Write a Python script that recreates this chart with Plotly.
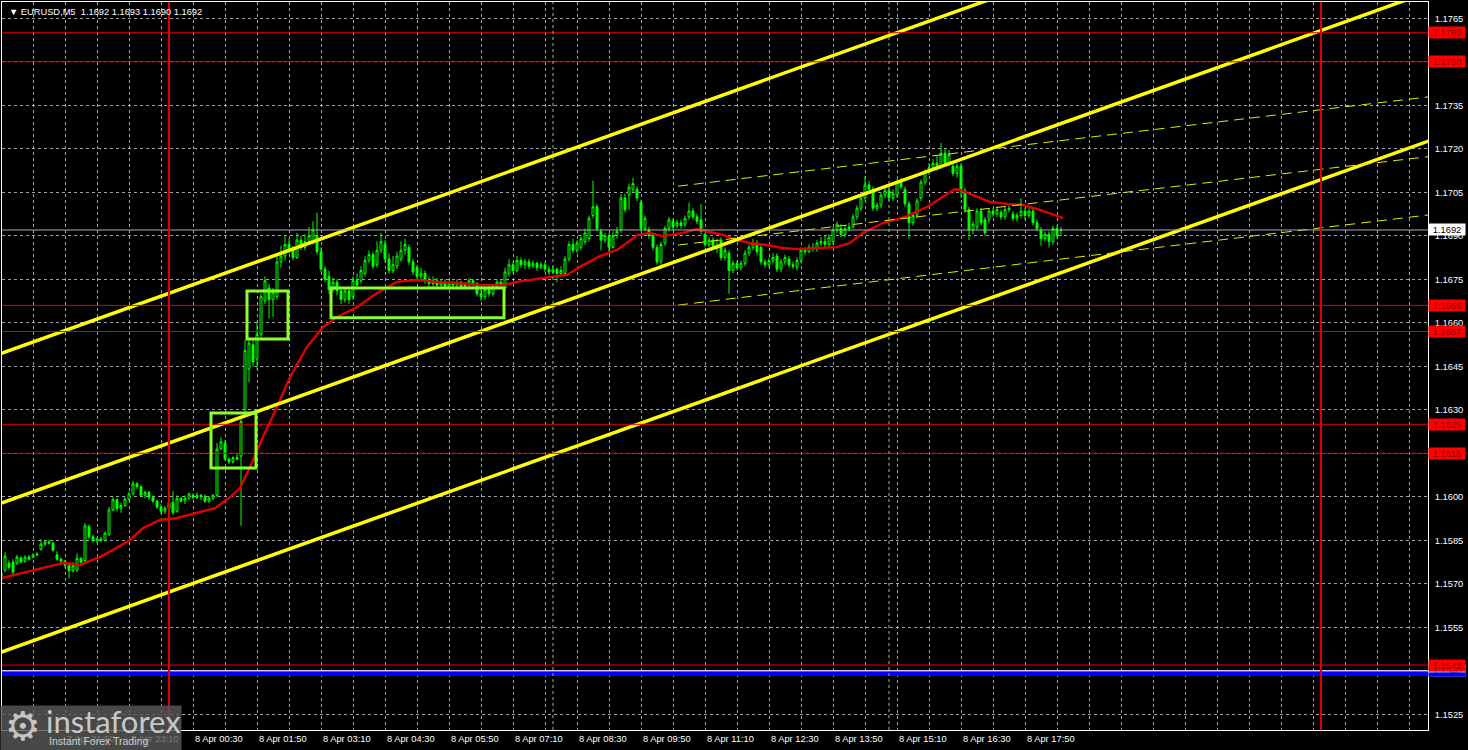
import plotly.graph_objects as go

# ---------------- data ----------------
opens = [
1.15713,1.15747,1.15771,1.15775,1.15771,1.15789,1.15778,1.15792,1.15792,1.15799,
1.15819,1.15837,1.15844,1.15840,1.15800,1.15785,1.15778,1.15764,1.15745,1.15748,
1.15788,1.15780,1.15897,1.15862,1.15848,1.15855,1.15850,1.15870,1.15955,1.15990,
1.15960,1.15970,1.15992,1.16010,1.16045,1.16035,1.16005,1.16015,1.15998,1.15985,
1.15965,1.15950,1.15960,1.15980,1.15950,1.15995,1.15985,1.15995,1.16005,1.15998,
1.16005,1.16000,1.15985,1.15995,1.16005,1.16165,1.16185,1.16130,1.16120,1.16135,
1.16140,1.16300,1.16440,1.16525,1.16475,1.16560,1.16675,1.16720,1.16680,1.16690,
1.16810,1.16830,1.16870,1.16850,1.16825,1.16885,1.16860,1.16880,1.16880,1.16900,
1.16845,1.16785,1.16760,1.16715,1.16740,1.16710,1.16680,1.16710,1.16690,1.16745,
1.16745,1.16770,1.16815,1.16835,1.16800,1.16850,1.16870,1.16820,1.16780,1.16795,
1.16820,1.16850,1.16860,1.16810,1.16790,1.16760,1.16770,1.16745,1.16735,1.16745,
1.16730,1.16740,1.16725,1.16735,1.16730,1.16740,1.16725,1.16730,1.16745,1.16735,
1.16700,1.16690,1.16715,1.16700,1.16725,1.16740,1.16720,1.16770,1.16800,1.16780,
1.16815,1.16800,1.16810,1.16795,1.16805,1.16790,1.16800,1.16785,1.16775,1.16785,
1.16770,1.16770,1.16820,1.16870,1.16850,1.16860,1.16880,1.16890,1.16970,1.17000,
1.16915,1.16885,1.16900,1.16860,1.16900,1.16920,1.17030,1.17040,1.17060,1.17060,
1.17015,1.16925,1.16920,1.16900,1.16860,1.16810,1.16875,1.16925,1.16950,1.16935,
1.16945,1.16940,1.16965,1.16985,1.16965,1.16955,1.16905,1.16870,1.16885,1.16865,
1.16885,1.16825,1.16840,1.16780,1.16805,1.16790,1.16805,1.16840,1.16860,1.16875,
1.16860,1.16810,1.16800,1.16815,1.16830,1.16785,1.16810,1.16820,1.16800,1.16790,
1.16815,1.16850,1.16845,1.16860,1.16855,1.16875,1.16880,1.16870,1.16880,1.16920,
1.16925,1.16905,1.16925,1.16930,1.16965,1.16995,1.17030,1.17075,1.17060,1.16995,
1.17005,1.17040,1.17055,1.17030,1.17040,1.17085,1.17060,1.17010,1.16945,1.16970,
1.17030,1.17085,1.17120,1.17135,1.17150,1.17140,1.17185,1.17150,1.17140,1.17115,
1.17140,1.17055,1.16990,1.16920,1.16930,1.16985,1.16955,1.16955,1.16985,1.16975,
1.16980,1.16965,1.16990,1.16975,1.16960,1.16970,1.16985,1.16970,1.16985,1.16945,
1.16920,1.16890,1.16905,1.16880,1.16925,1.16920]
highs = [
1.15753,1.15809,1.15781,1.15785,1.15800,1.15795,1.15798,1.15800,1.15806,1.15810,
1.15854,1.15850,1.15852,1.15846,1.15812,1.15790,1.15782,1.15770,1.15775,1.15805,
1.15792,1.15910,1.15905,1.15870,1.15860,1.15862,1.15880,1.15965,1.16000,1.15995,
1.15980,1.16000,1.16018,1.16055,1.16050,1.16040,1.16022,1.16020,1.16005,1.15990,
1.15975,1.15968,1.15985,1.16020,1.16005,1.16000,1.16005,1.16015,1.16012,1.16015,
1.16010,1.16008,1.16002,1.16010,1.16185,1.16205,1.16195,1.16135,1.16140,1.16150,
1.16275,1.16540,1.16545,1.16540,1.16600,1.16700,1.16760,1.16735,1.16720,1.16830,
1.16865,1.16900,1.16890,1.16865,1.16910,1.16900,1.16905,1.16930,1.16950,1.16980,
1.16860,1.16795,1.16780,1.16755,1.16750,1.16720,1.16720,1.16715,1.16760,1.16770,
1.16795,1.16830,1.16850,1.16845,1.16880,1.16910,1.16885,1.16840,1.16830,1.16845,
1.16880,1.16890,1.16870,1.16820,1.16800,1.16790,1.16780,1.16760,1.16760,1.16755,
1.16750,1.16750,1.16745,1.16745,1.16750,1.16745,1.16740,1.16755,1.16750,1.16740,
1.16715,1.16725,1.16730,1.16735,1.16750,1.16750,1.16790,1.16820,1.16810,1.16830,
1.16825,1.16820,1.16820,1.16815,1.16810,1.16810,1.16810,1.16795,1.16795,1.16790,
1.16795,1.16830,1.16880,1.16890,1.16885,1.16900,1.16925,1.16970,1.17090,1.17010,
1.16925,1.16910,1.16910,1.16915,1.16930,1.17045,1.17045,1.17080,1.17100,1.17070,
1.17025,1.16970,1.16930,1.16910,1.16870,1.16880,1.16935,1.16965,1.16960,1.16955,
1.16955,1.16970,1.17015,1.16995,1.16975,1.17010,1.16910,1.16895,1.16895,1.16890,
1.16895,1.16860,1.16850,1.16815,1.16815,1.16815,1.16850,1.16870,1.16890,1.16885,
1.16870,1.16820,1.16825,1.16840,1.16840,1.16820,1.16835,1.16830,1.16810,1.16825,
1.16860,1.16860,1.16870,1.16875,1.16885,1.16895,1.16900,1.16905,1.16930,1.16950,
1.16940,1.16935,1.16945,1.16975,1.17005,1.17040,1.17105,1.17090,1.17070,1.17015,
1.17050,1.17070,1.17065,1.17060,1.17095,1.17100,1.17070,1.17020,1.16980,1.17030,
1.17095,1.17130,1.17150,1.17165,1.17175,1.17220,1.17200,1.17195,1.17150,1.17150,
1.17150,1.17065,1.17000,1.16950,1.16995,1.16995,1.16965,1.16995,1.16995,1.17000,
1.16990,1.17000,1.17005,1.16985,1.16980,1.17030,1.16995,1.16995,1.16995,1.16955,
1.16930,1.16915,1.16915,1.16935,1.16935,1.16930]
lows = [
1.15689,1.15740,1.15750,1.15733,1.15765,1.15770,1.15772,1.15780,1.15788,1.15795,
1.15815,1.15830,1.15835,1.15810,1.15780,1.15772,1.15755,1.15718,1.15738,1.15740,
1.15768,1.15772,1.15855,1.15842,1.15840,1.15844,1.15845,1.15865,1.15950,1.15950,
1.15945,1.15965,1.15985,1.16005,1.16028,1.15998,1.15995,1.15990,1.15978,1.15958,
1.15940,1.15940,1.15955,1.15938,1.15945,1.15980,1.15975,1.15990,1.15990,1.15992,
1.15990,1.15978,1.15980,1.15988,1.15998,1.16160,1.16125,1.16112,1.16115,1.16125,
1.15900,1.16280,1.16395,1.16450,1.16440,1.16550,1.16665,1.16615,1.16620,1.16680,
1.16790,1.16815,1.16840,1.16815,1.16820,1.16850,1.16850,1.16870,1.16870,1.16835,
1.16775,1.16740,1.16700,1.16705,1.16695,1.16665,1.16670,1.16665,1.16680,1.16715,
1.16735,1.16760,1.16805,1.16785,1.16790,1.16840,1.16810,1.16770,1.16770,1.16785,
1.16810,1.16835,1.16800,1.16765,1.16745,1.16750,1.16735,1.16725,1.16725,1.16720,
1.16720,1.16715,1.16715,1.16720,1.16720,1.16715,1.16715,1.16725,1.16725,1.16690,
1.16675,1.16680,1.16690,1.16690,1.16715,1.16720,1.16710,1.16760,1.16770,1.16775,
1.16790,1.16785,1.16785,1.16790,1.16780,1.16785,1.16775,1.16765,1.16770,1.16740,
1.16760,1.16765,1.16810,1.16840,1.16840,1.16850,1.16870,1.16880,1.16960,1.16915,
1.16850,1.16875,1.16845,1.16855,1.16890,1.16910,1.16980,1.16990,1.17050,1.17020,
1.16915,1.16915,1.16890,1.16850,1.16800,1.16800,1.16865,1.16915,1.16920,1.16925,
1.16925,1.16930,1.16955,1.16955,1.16940,1.16905,1.16860,1.16860,1.16855,1.16840,
1.16815,1.16815,1.16700,1.16770,1.16780,1.16780,1.16795,1.16830,1.16850,1.16835,
1.16800,1.16790,1.16790,1.16805,1.16775,1.16775,1.16800,1.16790,1.16785,1.16780,
1.16805,1.16835,1.16840,1.16845,1.16845,1.16865,1.16860,1.16860,1.16870,1.16910,
1.16895,1.16895,1.16915,1.16925,1.16955,1.16985,1.17020,1.17050,1.16985,1.16985,
1.16995,1.17030,1.17020,1.17020,1.17030,1.17060,1.17000,1.16890,1.16935,1.16960,
1.17020,1.17075,1.17110,1.17125,1.17125,1.17130,1.17140,1.17140,1.17105,1.17100,
1.17030,1.16980,1.16885,1.16905,1.16920,1.16935,1.16900,1.16945,1.16965,1.16965,
1.16955,1.16955,1.16980,1.16950,1.16950,1.16960,1.16955,1.16960,1.16935,1.16915,
1.16865,1.16880,1.16860,1.16870,1.16890,1.16900]
closes = [
1.15742,1.15795,1.15757,1.15740,1.15792,1.15775,1.15792,1.15785,1.15799,1.15802,
1.15837,1.15844,1.15840,1.15816,1.15785,1.15778,1.15764,1.15745,1.15763,1.15788,
1.15775,1.15900,1.15862,1.15848,1.15855,1.15850,1.15875,1.15955,1.15990,1.15960,
1.15970,1.15992,1.16010,1.16045,1.16035,1.16005,1.16015,1.15998,1.15985,1.15965,
1.15950,1.15960,1.15980,1.15945,1.15995,1.15985,1.15995,1.16010,1.15998,1.16005,
1.16000,1.15985,1.15995,1.16005,1.16165,1.16190,1.16130,1.16120,1.16135,1.16130,
1.16260,1.16505,1.16530,1.16465,1.16560,1.16690,1.16745,1.16680,1.16705,1.16810,
1.16830,1.16870,1.16850,1.16825,1.16885,1.16860,1.16880,1.16900,1.16920,1.16845,
1.16785,1.16750,1.16715,1.16740,1.16710,1.16680,1.16710,1.16680,1.16745,1.16730,
1.16780,1.16815,1.16835,1.16795,1.16850,1.16880,1.16820,1.16780,1.16800,1.16830,
1.16850,1.16870,1.16810,1.16775,1.16760,1.16770,1.16745,1.16735,1.16745,1.16730,
1.16740,1.16725,1.16735,1.16730,1.16740,1.16725,1.16730,1.16745,1.16735,1.16700,
1.16690,1.16715,1.16700,1.16725,1.16740,1.16730,1.16775,1.16800,1.16780,1.16815,
1.16800,1.16810,1.16795,1.16805,1.16790,1.16800,1.16785,1.16775,1.16785,1.16770,
1.16780,1.16820,1.16870,1.16850,1.16875,1.16890,1.16910,1.16960,1.17000,1.16925,
1.16885,1.16900,1.16860,1.16900,1.16915,1.17030,1.16990,1.17068,1.17080,1.17030,
1.16925,1.16960,1.16900,1.16860,1.16810,1.16870,1.16925,1.16955,1.16930,1.16945,
1.16935,1.16960,1.16985,1.16965,1.16950,1.16915,1.16870,1.16885,1.16865,1.16855,
1.16825,1.16850,1.16780,1.16805,1.16790,1.16805,1.16840,1.16860,1.16875,1.16845,
1.16810,1.16800,1.16815,1.16825,1.16785,1.16810,1.16825,1.16800,1.16795,1.16815,
1.16850,1.16845,1.16860,1.16855,1.16875,1.16880,1.16870,1.16895,1.16920,1.16940,
1.16905,1.16925,1.16930,1.16965,1.16995,1.17030,1.17075,1.17060,1.16995,1.17005,
1.17040,1.17055,1.17030,1.17045,1.17085,1.17070,1.17010,1.16945,1.16970,1.17020,
1.17085,1.17120,1.17135,1.17150,1.17135,1.17185,1.17150,1.17180,1.17115,1.17140,
1.17055,1.16990,1.16920,1.16940,1.16985,1.16945,1.16910,1.16985,1.16975,1.16990,
1.16965,1.16990,1.16995,1.16960,1.16970,1.16985,1.16970,1.16985,1.16945,1.16925,
1.16890,1.16905,1.16880,1.16925,1.16900,1.16920]

# moving average (red line) read at sample bars
ma_idx = [0.25, 8, 12.25, 16, 19.75, 21, 24.75, 28, 32.25, 35.5, 39.75, 44, 49.75, 53.5,
          57.25, 59.75, 62.25, 65.5, 69, 72.25, 76.5, 80.5, 84, 89, 94, 99, 104, 109,
          114, 120.5, 125.5, 129, 137.25, 141.5, 145.5, 149.75, 154, 159.25, 162.25,
          165.5, 170.5, 174, 177.25, 180.5, 184, 187.25, 191.5, 195.5, 199, 204, 209,
          212.25, 215.5, 220.5, 226.5, 231.5, 235.5, 238.5, 239.75, 243, 247.25, 251.5,
          255.5, 259.75, 263, 265.5]
ma_val = [1.15720, 1.15748, 1.15761, 1.15772, 1.15765, 1.15772, 1.15793, 1.15817, 1.15851,
          1.15892, 1.15920, 1.15927, 1.15948, 1.15961, 1.15999, 1.16030, 1.16103, 1.16206,
          1.16310, 1.16413, 1.16517, 1.16585, 1.16620, 1.16654, 1.16703, 1.16741, 1.16748,
          1.16741, 1.16737, 1.16730, 1.16730, 1.16741, 1.16758, 1.16765, 1.16799, 1.16830,
          1.16851, 1.16903, 1.16910, 1.16899, 1.16910, 1.16923, 1.16913, 1.16903, 1.16885,
          1.16875, 1.16868, 1.16858, 1.16854, 1.16858, 1.16861, 1.16875, 1.16910, 1.16944,
          1.16968, 1.16999, 1.17034, 1.17061, 1.17058, 1.17041, 1.17017, 1.17010, 1.17006,
          1.16989, 1.16972, 1.16961]

# time axis labels (bar index -> text)
label_idx = [0, 16, 32, 48, 64, 80, 96, 112, 128, 144, 160, 176, 192, 208, 224, 240, 256]
label_text = ["7 Apr 2026", "7 Apr 21:50", "7 Apr 23:10", "8 Apr 00:30", "8 Apr 01:50",
              "8 Apr 03:10", "8 Apr 04:30", "8 Apr 05:50", "8 Apr 07:10", "8 Apr 08:30",
              "8 Apr 09:50", "8 Apr 11:10", "8 Apr 12:30", "8 Apr 13:50", "8 Apr 15:10",
              "8 Apr 16:30", "8 Apr 17:50"]
grid_idx = list(range(0, 356, 8))
price_ticks = [1.1525, 1.1540, 1.1555, 1.1570, 1.1585, 1.1600, 1.1615, 1.1630, 1.1645,
               1.1660, 1.1675, 1.1690, 1.1705, 1.1720, 1.1735, 1.1750, 1.1765]

# horizontal levels
red_levels = [1.1760, 1.1750, 1.1666, 1.1657, 1.1625, 1.1615, 1.1542]
current_price = 1.1692
support_level = 1.1540
blue_level = 1.15389

# vertical markers (bar index)
day_lines = [42, 330]
news_lines = [138, 222]

# yellow channel (bar index, price)
chan_x = [0, 360]
chan_upper = [1.16494, 1.18272]
chan_middle = [1.15978, 1.17756]
chan_lower = [1.15464, 1.17242]
dash_x = [169.25, 360]
dash_top = [1.17071, 1.17384]
dash_mid = [1.16868, 1.17178]
dash_low = [1.16661, 1.16977]

# green zones: (start bar, end bar, low, high)
zones_x0 = [52.5, 61.5, 82.5]
zones_x1 = [63.75, 71.75, 125.75]
zones_lo = [1.16099, 1.16544, 1.16617]
zones_hi = [1.16289, 1.16710, 1.16720]

title_text = "EURUSD,M5  1.1692 1.1693 1.1690 1.1692"

# ---------------- figure ----------------
W, H = 1468, 750
ML, MR, MT, MB = 2, 40, 2, 20
PW, PH = W - ML - MR, H - MT - MB
def px(xp):
    return (xp - ML) / PW
def py(yp):
    return (H - MB - yp) / PH

FONT = "Liberation Sans"
bars = list(range(len(opens)))

fig = go.Figure()
fig.add_trace(go.Candlestick(
    x=bars, open=opens, high=highs, low=lows, close=closes,
    increasing=dict(line=dict(color="#00FF00", width=1), fillcolor="#000000"),
    decreasing=dict(line=dict(color="#00FF00", width=1), fillcolor="#00FF00"),
    whiskerwidth=0, hoverinfo="skip", showlegend=False))
fig.add_trace(go.Scatter(x=ma_idx, y=ma_val, mode="lines",
                         line=dict(color="#E00000", width=2.4), hoverinfo="skip", showlegend=False))

for yv in (chan_upper, chan_middle, chan_lower):
    fig.add_trace(go.Scatter(x=chan_x, y=yv, mode="lines",
                             line=dict(color="#FFFF00", width=3.5), hoverinfo="skip", showlegend=False))
for yv in (dash_top, dash_mid, dash_low):
    fig.add_trace(go.Scatter(x=dash_x, y=yv, mode="lines",
                             line=dict(color="#E8E800", width=1, dash="10px,6px"),
                             hoverinfo="skip", showlegend=False))

shapes = []
for lv in red_levels:
    shapes.append(dict(type="line", xref="paper", x0=0, x1=1, yref="y", y0=lv, y1=lv,
                       line=dict(color="#E00000", width=1), layer="above"))
shapes.append(dict(type="line", xref="paper", x0=0, x1=1, yref="y", y0=current_price, y1=current_price,
                   line=dict(color="#A8A8B8", width=1), layer="above"))
shapes.append(dict(type="line", xref="paper", x0=0, x1=1, yref="y", y0=blue_level, y1=blue_level,
                   line=dict(color="#0000FF", width=4), layer="above"))
shapes.append(dict(type="line", xref="paper", x0=0, x1=1, yref="y", y0=support_level, y1=support_level,
                   line=dict(color="#D8C8E8", width=1.5), layer="above"))
for xv in day_lines:
    shapes.append(dict(type="line", xref="x", x0=xv, x1=xv, yref="paper", y0=0, y1=1,
                       line=dict(color="#E00000", width=2), layer="above"))
for xv in news_lines:
    shapes.append(dict(type="line", xref="x", x0=xv, x1=xv, yref="paper", y0=0, y1=1,
                       line=dict(color="#6FD86F", width=1, dash="dot"), layer="above"))
for a, b, lo, hi in zip(zones_x0, zones_x1, zones_lo, zones_hi):
    shapes.append(dict(type="rect", xref="x", yref="y", x0=a, x1=b, y0=lo, y1=hi,
                       line=dict(color="#8CFF2E", width=3), fillcolor="rgba(0,0,0,0)", layer="above"))

ann = []
# time labels
for i, t in zip(label_idx, label_text):
    ann.append(dict(x=i, xref="x", y=0, yref="paper", yanchor="top", xanchor="left",
                    text=t, showarrow=False, xshift=0, yshift=-2,
                    font=dict(family=FONT, size=9.3, color="#FFFFFF")))
# price labels on the right
def plabel(val, bg, fg):
    ann.append(dict(x=1, xref="paper", y=val, yref="y", xanchor="left", yanchor="middle",
                    text=f"{val:.4f}", showarrow=False, bgcolor=bg, width=36, height=11,
                    align="center", borderpad=0,
                    font=dict(family=FONT, size=9.3, color=fg)))
plabel(current_price, "#FFFFFF", "#000000")
plabel(support_level, "#C8C0D8", "#303030")
for lv in red_levels:
    plabel(lv, "#FF0000", "#8B0000")
ann.append(dict(x=1, xref="paper", y=blue_level, yref="y", xanchor="left", yanchor="middle",
                text=" ", showarrow=False, bgcolor="#0000FF", width=36, height=3, borderpad=0,
                font=dict(size=2)))
# title
ann.append(dict(x=px(7), y=py(5), xref="paper", yref="paper", xanchor="left", yanchor="top",
                text="\u25BC " + title_text, showarrow=False,
                font=dict(family=FONT, size=9.3, color="#FFFFFF")))
# watermark
ann.append(dict(x=px(0), y=py(705), xref="paper", yref="paper", xanchor="left", yanchor="top",
                text=" ", showarrow=False, width=180, height=45, borderpad=0,
                bgcolor="rgba(88,88,88,0.82)", font=dict(size=4)))
ann.append(dict(x=px(23), y=py(726), xref="paper", yref="paper", xanchor="center", yanchor="middle",
                text="\u2699", showarrow=False, font=dict(family="DejaVu Sans", size=40, color="#C4C4C4")))
ann.append(dict(x=px(44), y=py(721), xref="paper", yref="paper", xanchor="left", yanchor="middle",
                text="instaforex", showarrow=False, font=dict(family="Lato", size=31, color="#C8C8C8")))
ann.append(dict(x=px(47), y=py(741), xref="paper", yref="paper", xanchor="left", yanchor="middle",
                text="Instant Forex Trading", showarrow=False,
                font=dict(family=FONT, size=10.5, color="#D0D0D0")))

GRID = "rgba(190,190,200,0.85)"
fig.update_layout(
    width=W, height=H, margin=dict(l=ML, r=MR, t=MT, b=MB, autoexpand=False),
    paper_bgcolor="#000000", plot_bgcolor="#000000",
    showlegend=False, shapes=shapes, annotations=ann,
    xaxis=dict(range=[0.25, 356.75], tickvals=grid_idx, showticklabels=False, ticks="",
               showgrid=True, gridcolor=GRID, griddash="3px,3px", gridwidth=1,
               zeroline=False, showline=True, linecolor="#FFFFFF", linewidth=1, mirror=True,
               rangeslider=dict(visible=False), fixedrange=True),
    yaxis=dict(range=[1.15196, 1.17706], side="right", tickvals=price_ticks,
               ticktext=[f"{v:.4f}" for v in price_ticks], ticks="", ticklabelstandoff=4,
               tickfont=dict(family=FONT, size=9.3, color="#FFFFFF"),
               showgrid=True, gridcolor=GRID, griddash="3px,3px", gridwidth=1,
               zeroline=False, showline=True, linecolor="#FFFFFF", linewidth=1, mirror=True,
               fixedrange=True),
)
fig.write_html("out.html", config={"displayModeBar": False},
               post_script="document.body.style.margin='0';document.body.style.background='#000';")
